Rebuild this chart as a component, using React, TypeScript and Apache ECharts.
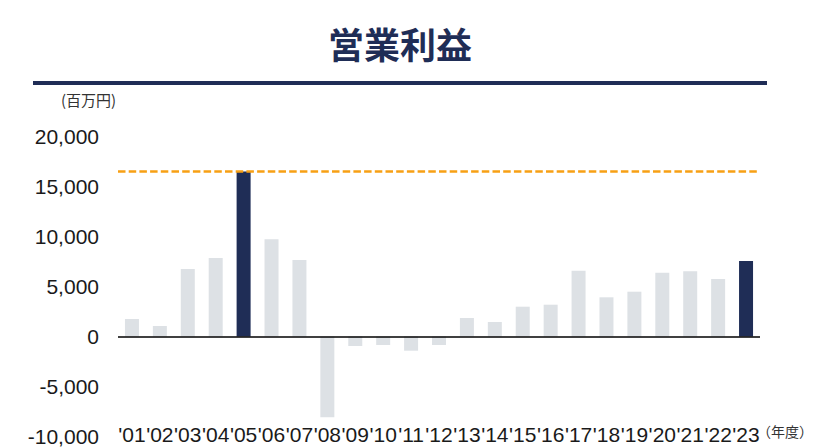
import React, { useEffect, useRef } from "react";
import * as echarts from "echarts";

const years = ["'01","'02","'03","'04","'05","'06","'07","'08","'09","'10","'11","'12","'13","'14","'15","'16","'17","'18","'19","'20","'21","'22","'23"];
const operatingProfit = [1750, 1050, 6750, 7850, 16500, 9720, 7650, -8080, -950, -850, -1420, -850, 1850, 1450, 2980, 3180, 6580, 3920, 4480, 6380, 6520, 5750, 7550];
const highlighted = ["'05", "'23"];
const yTicks = { min: -10000, max: 20000, interval: 5000 };
const peakValue = Math.max(...operatingProfit);

const NAVY = "#1f2d56";
const GRAY = "#dde1e5";

export default function App() {
  const ref = useRef<HTMLDivElement>(null);
  useEffect(() => {
    if (!ref.current) return;
    const chart = echarts.init(ref.current, null, { renderer: "svg" });
    chart.setOption({
      animation: false,
      backgroundColor: "#ffffff",
      grid: { left: 118, right: 78, top: 136.5, bottom: 10.5, containLabel: false },
      xAxis: {
        type: "category",
        data: years,
        axisLine: { show: false, onZero: false },
        axisTick: { show: false },
        axisLabel: {
          interval: 0,
          margin: -13,
          fontSize: 21,
          color: "#1a1a1a",
          fontFamily: "Liberation Sans, Arial, sans-serif",
        },
        splitLine: { show: false },
      },
      yAxis: {
        type: "value",
        min: yTicks.min,
        max: yTicks.max,
        interval: yTicks.interval,
        axisLine: { show: false },
        axisTick: { show: false },
        splitLine: { show: false },
        axisLabel: {
          margin: 19,
          fontSize: 21,
          color: "#1a1a1a",
          fontFamily: "Liberation Sans, Arial, sans-serif",
          formatter: (v: number) => v.toLocaleString("en-US"),
        },
      },
      series: [
        {
          type: "bar",
          barWidth: 14,
          data: operatingProfit.map((v, i) => ({
            value: v,
            itemStyle: { color: highlighted.includes(years[i]) ? NAVY : GRAY },
          })),
          markLine: {
            silent: true,
            symbol: ["none", "none"],
            label: { show: false },
            data: [
              { yAxis: 0, lineStyle: { color: "#000000", width: 1.5, type: "solid" } },
              { yAxis: peakValue, lineStyle: { color: "#f7a014", width: 2.5, type: [7.5, 3.2] } },
            ],
          },
        },
      ],
      graphic: [
        {
          type: "text",
          x: 400,
          y: 43,
          style: {
            text: "営業利益",
            fontSize: 36,
            fontWeight: "bold",
            fill: NAVY,
            align: "center",
            verticalAlign: "middle",
            fontFamily: "Noto Sans CJK JP, sans-serif",
          },
        },
        {
          type: "rect",
          shape: { x: 33, y: 81, width: 734, height: 4 },
          style: { fill: NAVY },
        },
        {
          type: "text",
          x: 61,
          y: 99,
          style: {
            text: "(百万円)",
            fontSize: 15,
            fill: "#333333",
            verticalAlign: "middle",
            fontFamily: "Noto Sans CJK JP, sans-serif",
          },
        },
        {
          type: "text",
          x: 757,
          y: 431,
          style: {
            text: "（年度）",
            fontSize: 14,
            fill: "#333333",
            verticalAlign: "middle",
            fontFamily: "Noto Sans CJK JP, sans-serif",
          },
        },
      ],
    });
    return () => chart.dispose();
  }, []);
  return (
    <div
      ref={ref}
      style={{ position: "fixed", left: 0, top: 0, width: 838, height: 447 }}
    />
  );
}
